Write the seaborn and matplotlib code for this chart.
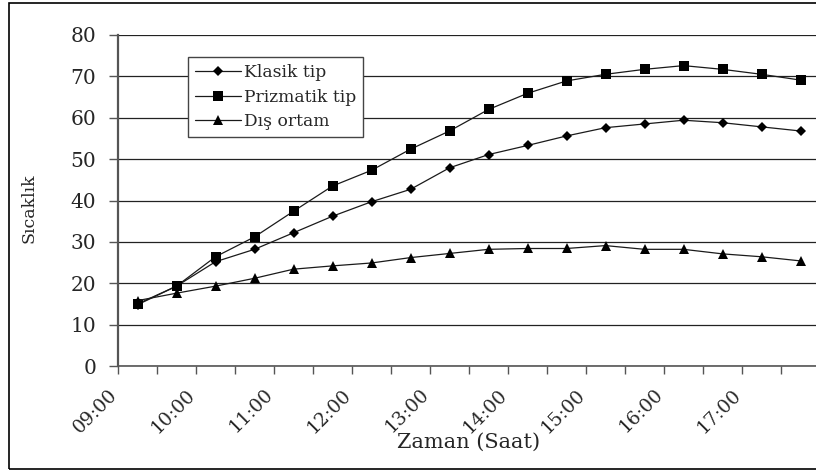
import numpy as np
import pandas as pd
import matplotlib
matplotlib.use("Agg")
import matplotlib.pyplot as plt
import matplotlib.transforms as mtransforms
from matplotlib.patches import Rectangle
import seaborn as sns

# --- Data ---
times = ["09:00", "09:30", "10:00", "10:30", "11:00", "11:30", "12:00", "12:30", "13:00",
         "13:30", "14:00", "14:30", "15:00", "15:30", "16:00", "16:30", "17:00", "17:30"]
klasik = [14.8, 19.3, 25.2, 28.2, 32.2, 36.2, 39.7, 42.7, 47.9,
          51.1, 53.3, 55.6, 57.6, 58.5, 59.4, 58.8, 57.8, 56.8]
prizmatik = [15.0, 19.3, 26.4, 31.2, 37.4, 43.5, 47.3, 52.4, 56.8,
             62.0, 65.9, 68.9, 70.5, 71.7, 72.6, 71.7, 70.5, 69.1]
dis_ortam = [15.8, 17.6, 19.3, 21.2, 23.4, 24.2, 24.9, 26.2, 27.2,
             28.2, 28.4, 28.4, 29.1, 28.2, 28.2, 27.1, 26.4, 25.4]
series_names = ["Klasik tip", "Prizmatik tip", "Dış ortam"]
y_ticks = [0, 10, 20, 30, 40, 50, 60, 70, 80]

df = pd.DataFrame({"Saat": times, "pos": np.arange(len(times)),
                   "Klasik tip": klasik, "Prizmatik tip": prizmatik, "Dış ortam": dis_ortam})

sns.set_style("white")
plt.rcParams["font.family"] = ["DejaVu Serif"]

fig = plt.figure(figsize=(8.16, 4.70), dpi=100)
W, H = 816, 470
# plot area runs past the right edge, like the cropped original
ax = fig.add_axes([118 / W, 104 / H, 702 / W, 331 / H])

styles = {"Klasik tip": ("D", 5.4), "Prizmatik tip": ("s", 7.8), "Dış ortam": ("^", 7.4)}
for name in series_names:
    mk, ms = styles[name]
    sns.lineplot(data=df, x="pos", y=name, ax=ax, color="#1a1a1a", linewidth=0.9,
                 marker=mk, markersize=ms, markeredgewidth=0, markerfacecolor="black",
                 label=name)

ax.set_xlim(-0.5, len(times) - 0.5)
ax.set_ylim(0, 80)
ax.set_yticks(y_ticks)
ax.yaxis.grid(True, color="#222222", linewidth=0.9)
ax.xaxis.grid(False)

for s in ["top", "right"]:
    ax.spines[s].set_visible(False)
ax.spines["left"].set_color("#555555")
ax.spines["left"].set_linewidth(1.6)
ax.spines["bottom"].set_color("#555555")
ax.spines["bottom"].set_linewidth(1.2)

# x: labels every hour at category centres, tick marks between categories
ax.set_xticks(df["pos"][::2])
ax.set_xticklabels(df["Saat"][::2])
ax.set_xticks(np.arange(-0.5, len(times), 1), minor=True)
ax.tick_params(which="both", bottom=True, left=True)
ax.tick_params(axis="x", which="major", length=0, pad=18.5, labelsize=13.5)
ax.tick_params(axis="x", which="minor", length=5.8, width=1, color="#555555", direction="out")
ax.tick_params(axis="y", length=6.5, width=1, color="#555555", direction="out", pad=9.0,
               labelsize=14.5)
offset = mtransforms.ScaledTranslation(-23 / 100, 0, fig.dpi_scale_trans)
for lbl in ax.get_xticklabels():
    lbl.set_rotation(45)
    lbl.set_ha("right")
    lbl.set_va("center")
    lbl.set_rotation_mode("anchor")
    lbl.set_transform(lbl.get_transform() + offset)

ax.set_xlabel("Zaman (Saat)", fontsize=15)
ax.xaxis.set_label_coords(0.5, -0.202)
ax.xaxis.label.set_va("top")
ax.set_ylabel("Sıcaklık", fontsize=12.5)
ax.yaxis.set_label_coords(-0.114, 0.477)

leg = ax.legend(loc="upper left", bbox_to_anchor=(188 / W, 1 - 57 / H),
                bbox_transform=fig.transFigure, borderaxespad=0, frameon=True,
                fancybox=False, framealpha=1, edgecolor="#444444", fontsize=12.3,
                handlelength=2.7, handletextpad=0.15, labelspacing=0.45, borderpad=0.4)
leg.get_frame().set_linewidth(1.0)

# outer chart border (right side cut off in the original)
fig.add_artist(Rectangle((9 / W, 1 - 469 / H), 830 / W, 466 / H, transform=fig.transFigure,
                         fill=False, edgecolor="black", linewidth=1.2, clip_on=False))

fig.savefig("out.png", dpi=100)
